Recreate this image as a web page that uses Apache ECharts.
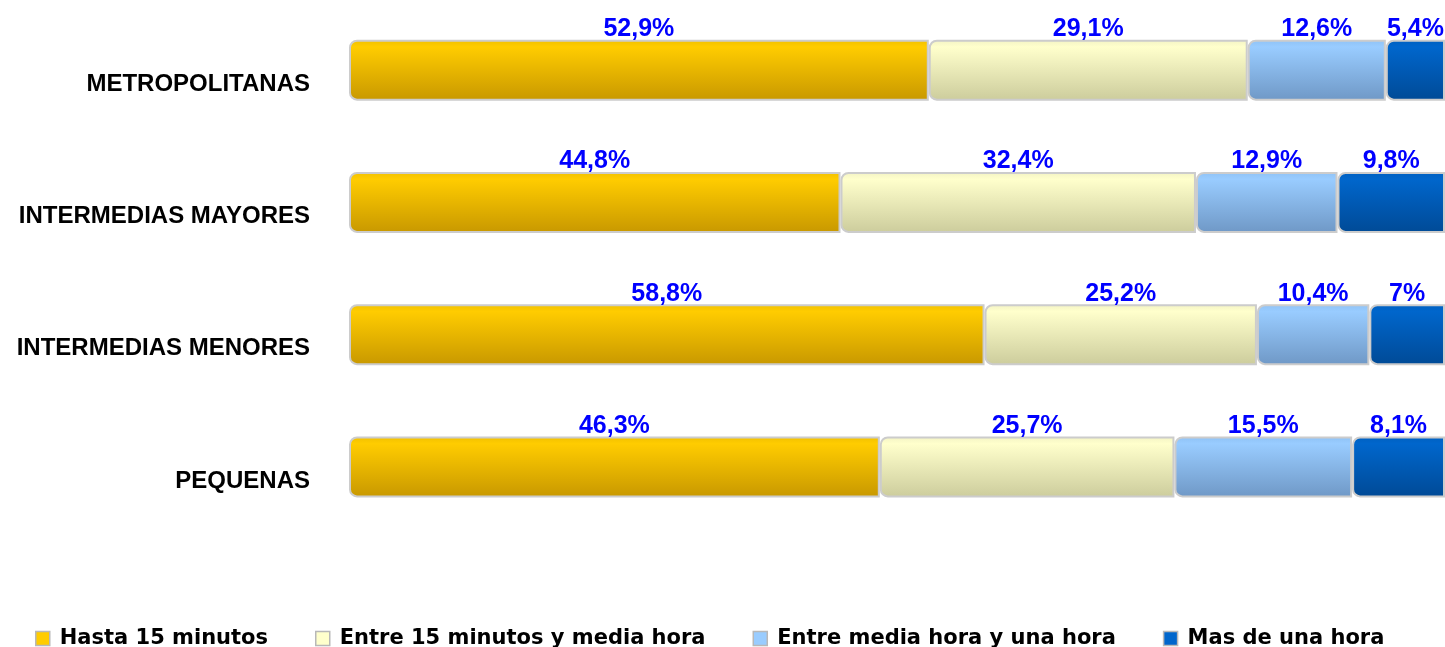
<!DOCTYPE html>
<html>
<head>
<meta charset="utf-8">
<title>Tiempo de viaje por tipo de ciudad</title>
<script src="https://cdn.jsdelivr.net/npm/echarts@6/dist/echarts.min.js"></script>
<style>
  html, body { margin: 0; padding: 0; background: #fff; }
  #main { width: 1445px; height: 647px; }
</style>
</head>
<body>
<div id="main"></div>
<script>
var categories = ['METROPOLITANAS', 'INTERMEDIAS MAYORES', 'INTERMEDIAS MENORES', 'PEQUENAS'];
var seriesNames = ['Hasta 15 minutos', 'Entre 15 minutos y media hora', 'Entre media hora y una hora', 'Mas de una hora'];

var hasta15 = [52.9, 44.8, 58.8, 46.3];
var entre15y30 = [29.1, 32.4, 25.2, 25.7];
var entre30y60 = [12.6, 12.9, 10.4, 15.5];
var masDeUnaHora = [5.4, 9.8, 7, 8.1];

var seriesValues = [hasta15, entre15y30, entre30y60, masDeUnaHora];

var chartPage = {

  // [top, brillo, base] para simular el cilindro
  colors: [
    ['#f0c000', '#ffcc00', '#c89800'],
    ['#f2f2c4', '#ffffcc', '#cccc9c'],
    ['#8fc2f5', '#99ccff', '#6f98c6'],
    ['#0060c0', '#0066cc', '#004a96']
  ],
  flatColors: ['#ffcc00', '#ffffcc', '#99ccff', '#0066cc'],

  init: function () {
    var self = this;
    self.chart = echarts.init(document.getElementById('main'));
    self.chart.setOption(self.buildOption());
  },

  rowTotals: function () {
    var totals = [];
    for (var i = 0; i < categories.length; i++) {
      var t = 0;
      for (var s = 0; s < seriesValues.length; s++) {
        t += seriesValues[s][i];
      }
      totals.push(t);
    }
    return totals;
  },

  formatPct: function (v) {
    return String(v).replace('.', ',') + '%';
  },

  buildOption: function () {
    var self = this;
    var totals = self.rowTotals();
    var series = [];

    for (var s = 0; s < seriesValues.length; s++) {
      (function (s) {
        var c = self.colors[s];
        series.push({
          name: seriesNames[s],
          type: 'bar',
          stack: 'total',
          barWidth: 61,
          // barra al 100%, la etiqueta muestra el valor original
          data: seriesValues[s].map(function (v, i) {
            return v / totals[i] * 100;
          }),
          itemStyle: {
            color: new echarts.graphic.LinearGradient(0, 0, 0, 1, [
              { offset: 0, color: c[0] },
              { offset: 0.12, color: c[1] },
              { offset: 1, color: c[2] }
            ]),
            borderColor: '#cccccc',
            borderWidth: 2,
            borderRadius: [7, 0, 0, 7]
          },
          label: {
            show: true,
            position: 'top',
            distance: -2,
            color: '#0000ff',
            fontFamily: 'Liberation Sans',
            fontWeight: 'bold',
            fontSize: 25,
            formatter: function (p) {
              return self.formatPct(seriesValues[s][p.dataIndex]);
            }
          },
          emphasis: { disabled: true }
        });
      })(s);
    }

    return {
      animation: false,
      grid: {
        left: 349,
        right: 0,
        top: 4,
        bottom: 114
      },
      legend: {
        left: 30,
        top: 623,
        itemWidth: 14,
        itemHeight: 14,
        itemGap: 47,
        icon: 'rect',
        textStyle: {
          color: '#000',
          fontFamily: 'DejaVu Sans',
          fontWeight: 'bold',
          fontSize: 21,
          padding: [0, 0, 0, 5]
        },
        data: seriesNames.map(function (n, i) {
          return {
            name: n,
            itemStyle: { color: self.flatColors[i], borderColor: '#b8b8b8', borderWidth: 1.5 }
          };
        })
      },
      xAxis: {
        type: 'value',
        min: 0,
        max: 100,
        show: false
      },
      yAxis: {
        type: 'category',
        inverse: true,
        data: categories,
        axisLine: { show: false },
        axisTick: { show: false },
        axisLabel: {
          margin: 39,
          color: '#000',
          fontFamily: 'Liberation Sans',
          fontWeight: 'bold',
          fontSize: 24,
          verticalAlign: 'top',
          padding: [2, 0, 0, 0]
        }
      },
      series: series
    };
  }
};

chartPage.init();
</script>
</body>
</html>
